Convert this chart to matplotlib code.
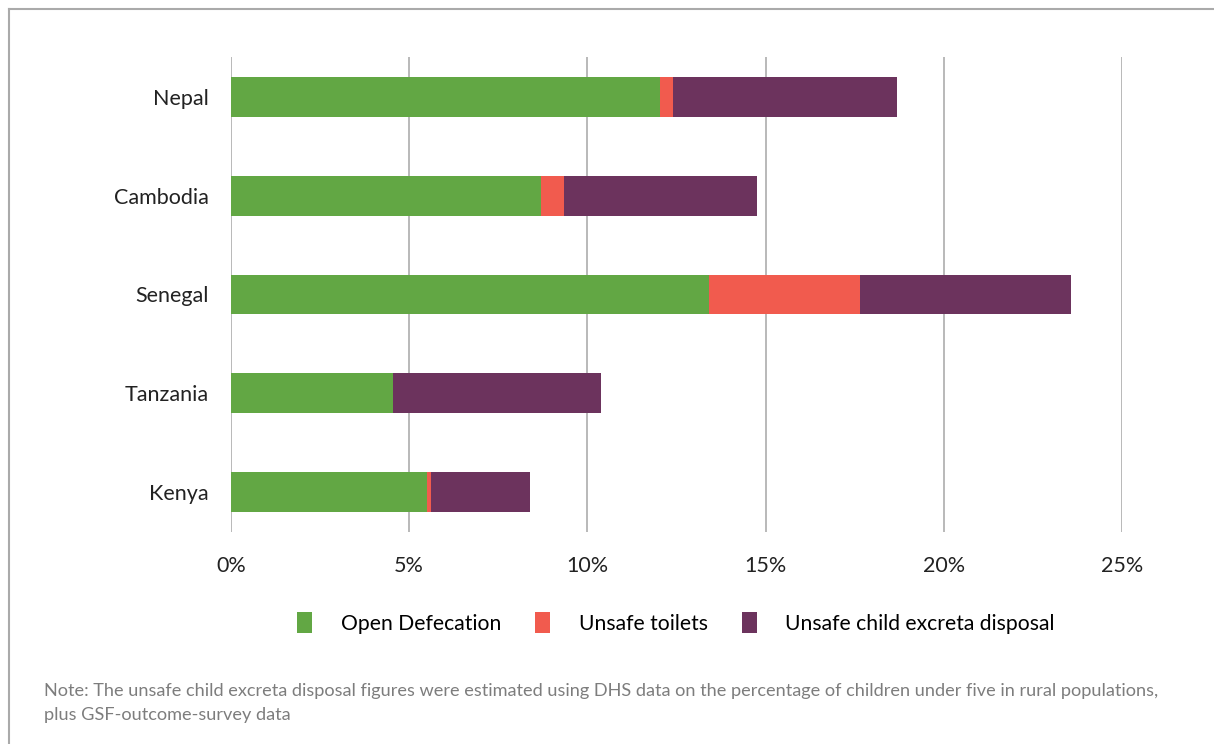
import matplotlib.pyplot as plt
from matplotlib.patches import Patch
from matplotlib.lines import Line2D

plt.rcParams['font.family'] = ['Lato', 'DejaVu Sans']

countries = ['Nepal', 'Cambodia', 'Senegal', 'Tanzania', 'Kenya']
open_defecation = [12.04, 8.70, 13.41, 4.55, 5.50]
unsafe_toilets = [0.36, 0.64, 4.24, 0.0, 0.11]
unsafe_child = [6.29, 5.42, 5.92, 5.83, 2.78]
series_names = ['Open Defecation', 'Unsafe toilets', 'Unsafe child excreta disposal']
colors = ['#62A744', '#F15B4E', '#6C335D']
xticks = [0, 5, 10, 15, 20, 25]
note = ("Note: The unsafe child excreta disposal figures were estimated using DHS data on the percentage of children under five in rural populations,\n"
        "plus GSF-outcome-survey data")

W, H = 1214, 744
fig = plt.figure(figsize=(W / 100, H / 100), dpi=100)
ax = fig.add_axes([231 / W, (H - 532) / H, (1122 - 231) / W, (532 - 57) / H])

ypos = list(range(len(countries)))
left = [0] * len(countries)
for vals, c in zip([open_defecation, unsafe_toilets, unsafe_child], colors):
    ax.barh(ypos, vals, left=left, height=0.405, color=c, zorder=3)
    left = [a + b for a, b in zip(left, vals)]

ax.set_xlim(0, 25)
ax.set_ylim(4.405, -0.405)
ax.set_xticks(xticks)
ax.set_xticklabels([f'{t}%' for t in xticks], fontsize=15.5, color='#222222')
ax.set_yticks(ypos)
ax.set_yticklabels(countries, fontsize=15.5, color='#222222')
ax.tick_params(axis='x', length=0, pad=17)
ax.tick_params(axis='y', length=0, pad=16)
ax.xaxis.grid(True, color='#b3b3b3', linewidth=1.3, zorder=0)
for s in ax.spines.values():
    s.set_visible(False)

handles = [Patch(facecolor=c, edgecolor='none') for c in colors]
fig.legend(handles, series_names, loc='center', bbox_to_anchor=(676 / W, 1 - 623 / H),
           ncol=3, frameon=False, fontsize=15.2, handlelength=0.72, handleheight=1.1,
           handletextpad=1.35, columnspacing=1.6)

fig.text(44 / W, 1 - 703 / H, note, fontsize=13.1, color='#7d7d7d', va='center',
         linespacing=1.6)

# outer frame (top and left edges only)
fig.add_artist(Line2D([9 / W, 1], [1 - 9 / H, 1 - 9 / H], color='#aaaaaa', lw=1.5))
fig.add_artist(Line2D([9 / W, 9 / W], [0, 1 - 9 / H], color='#aaaaaa', lw=1.5))

fig.savefig('out.png', dpi=100)
